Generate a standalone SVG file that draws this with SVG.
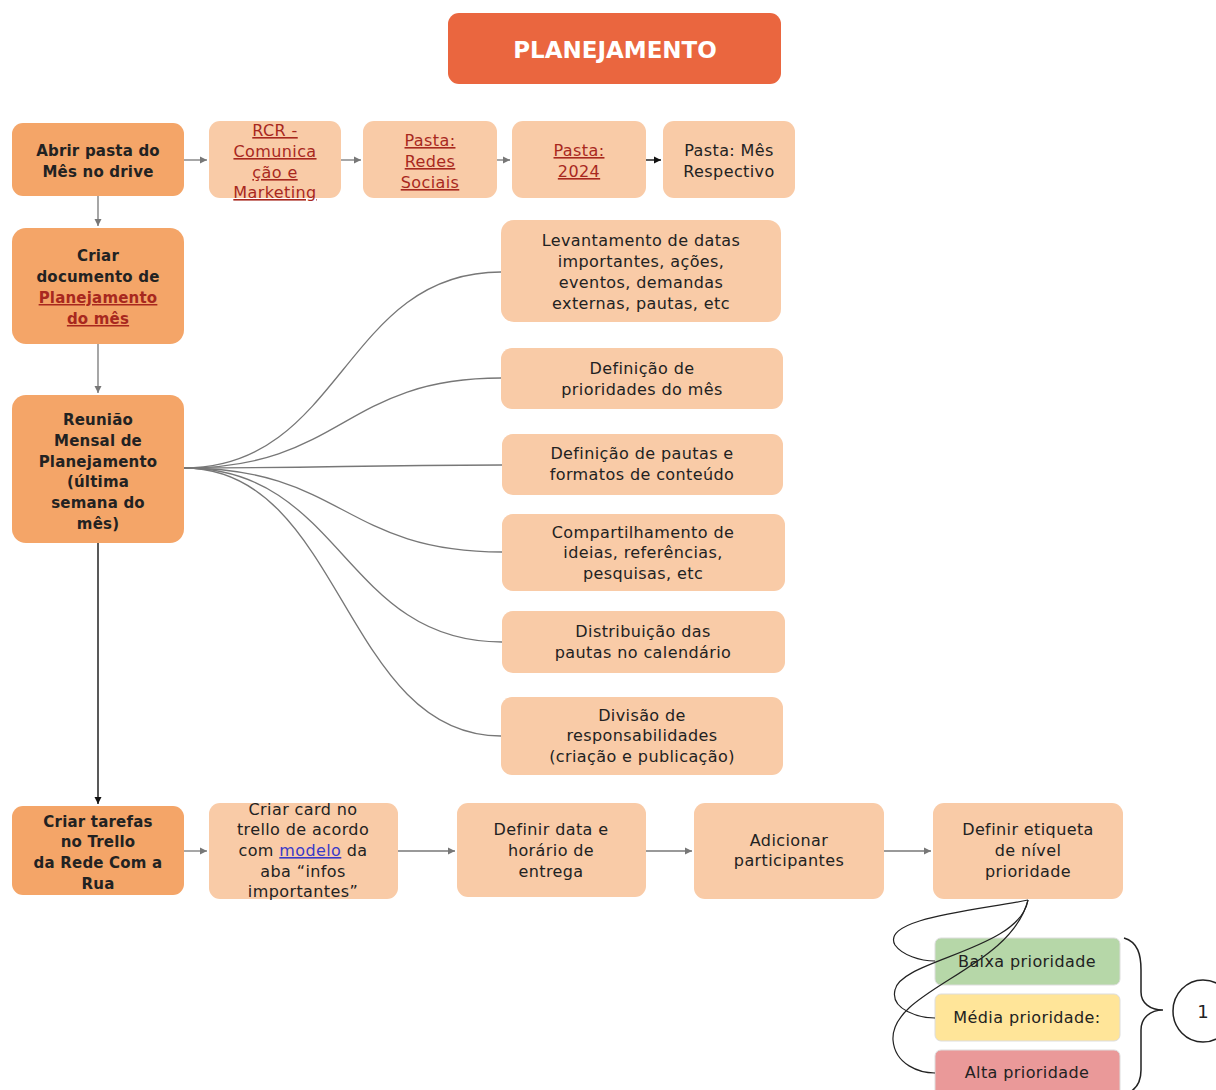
<svg xmlns="http://www.w3.org/2000/svg" width="1216" height="1090" viewBox="0 0 1216 1090">
<defs>
<style>
text{font-family:"DejaVu Sans","Liberation Sans",sans-serif;text-anchor:middle;fill:#222;}
.dark{fill:#F4A568;}
.light{fill:#F9CBA7;}
.b{font-weight:bold;font-size:15px;letter-spacing:0.2px;}
.n{font-size:16px;letter-spacing:0.4px;}
.lnk{fill:#A8281E;text-decoration:underline;}
.blue{fill:#3a3ac8;text-decoration:underline;}
.c{fill:none;stroke:#777;stroke-width:1.3;}
.k{fill:none;stroke:#222;stroke-width:1.5;}
.p{stroke:#ddd;stroke-width:1;}
</style>
<marker id="ag" markerWidth="8" markerHeight="8" refX="7" refY="4" orient="auto" markerUnits="userSpaceOnUse"><path d="M0,0.5 L7,4 L0,7.5 Z" fill="#777"/></marker>
<marker id="ak" markerWidth="8" markerHeight="8" refX="7" refY="4" orient="auto" markerUnits="userSpaceOnUse"><path d="M0,0.5 L7,4 L0,7.5 Z" fill="#111"/></marker>
</defs>
<rect width="1216" height="1090" fill="#fff"/>

<g id="title">
<rect x="448" y="13" width="333" height="71" rx="11" fill="#EA663F"/>
<text x="615" y="58" style="fill:#fff;font-weight:bold;font-size:23px;">PLANEJAMENTO</text>
</g>

<g id="abrir">
<rect class="dark" x="12" y="123" width="172" height="73" rx="11"/>
<text class="b"><tspan x="98" y="156">Abrir pasta do</tspan><tspan x="98" y="177">Mês no drive</tspan></text>
</g>
<g id="rcr">
<rect class="light" x="209" y="121" width="132" height="77" rx="11"/>
<text class="n lnk"><tspan x="275" y="136">RCR -</tspan><tspan x="275" y="157">Comunica</tspan><tspan x="275" y="178">ção e</tspan><tspan x="275" y="198">Marketing</tspan></text>
</g>
<g id="redes">
<rect class="light" x="363" y="121" width="134" height="77" rx="11"/>
<text class="n lnk"><tspan x="430" y="146">Pasta:</tspan><tspan x="430" y="167">Redes</tspan><tspan x="430" y="188">Sociais</tspan></text>
</g>
<g id="ano">
<rect class="light" x="512" y="121" width="134" height="77" rx="11"/>
<text class="n lnk"><tspan x="579" y="156">Pasta:</tspan><tspan x="579" y="177">2024</tspan></text>
</g>
<g id="mes">
<rect class="light" x="663" y="121" width="132" height="77" rx="11"/>
<text class="n"><tspan x="729" y="156">Pasta: Mês</tspan><tspan x="729" y="177">Respectivo</tspan></text>
</g>

<g id="criardoc">
<rect class="dark" x="12" y="228" width="172" height="116" rx="14"/>
<text class="b"><tspan x="98" y="261">Criar</tspan><tspan x="98" y="282">documento de</tspan><tspan x="98" y="303" class="lnk">Planejamento</tspan><tspan x="98" y="324" class="lnk">do mês</tspan></text>
</g>
<g id="reuniao">
<rect class="dark" x="12" y="395" width="172" height="148" rx="14"/>
<text class="b"><tspan x="98" y="425">Reunião</tspan><tspan x="98" y="446">Mensal de</tspan><tspan x="98" y="467">Planejamento</tspan><tspan x="98" y="487">(última</tspan><tspan x="98" y="508">semana do</tspan><tspan x="98" y="529">mês)</tspan></text>
</g>

<g id="levantamento">
<rect class="light" x="501" y="220" width="280" height="102" rx="13"/>
<text class="n"><tspan x="641" y="246">Levantamento de datas</tspan><tspan x="641" y="267">importantes, ações,</tspan><tspan x="641" y="288">eventos, demandas</tspan><tspan x="641" y="309">externas, pautas, etc</tspan></text>
</g>
<g id="prioridades">
<rect class="light" x="501" y="348" width="282" height="61" rx="11"/>
<text class="n"><tspan x="642" y="374">Definição de</tspan><tspan x="642" y="395">prioridades do mês</tspan></text>
</g>
<g id="pautas">
<rect class="light" x="502" y="434" width="281" height="61" rx="11"/>
<text class="n"><tspan x="642" y="459">Definição de pautas e</tspan><tspan x="642" y="480">formatos de conteúdo</tspan></text>
</g>
<g id="compartilhamento">
<rect class="light" x="502" y="514" width="283" height="77" rx="11"/>
<text class="n"><tspan x="643" y="538">Compartilhamento de</tspan><tspan x="643" y="558">ideias, referências,</tspan><tspan x="643" y="579">pesquisas, etc</tspan></text>
</g>
<g id="distribuicao">
<rect class="light" x="502" y="611" width="283" height="62" rx="11"/>
<text class="n"><tspan x="643" y="637">Distribuição das</tspan><tspan x="643" y="658">pautas no calendário</tspan></text>
</g>
<g id="divisao">
<rect class="light" x="501" y="697" width="282" height="78" rx="11"/>
<text class="n"><tspan x="642" y="721">Divisão de</tspan><tspan x="642" y="741">responsabilidades</tspan><tspan x="642" y="762">(criação e publicação)</tspan></text>
</g>

<g id="criartarefas">
<rect class="dark" x="12" y="806" width="172" height="89" rx="11"/>
<text class="b"><tspan x="98" y="827">Criar tarefas</tspan><tspan x="98" y="847">no Trello</tspan><tspan x="98" y="868">da Rede Com a</tspan><tspan x="98" y="889">Rua</tspan></text>
</g>
<g id="card">
<rect class="light" x="209" y="803" width="189" height="96" rx="11"/>
<text class="n"><tspan x="303" y="815">Criar card no</tspan><tspan x="303" y="835">trello de acordo</tspan><tspan x="303" y="856">com <tspan class="blue">modelo</tspan> da</tspan><tspan x="303" y="877">aba “infos</tspan><tspan x="303" y="897">importantes”</tspan></text>
</g>
<g id="data">
<rect class="light" x="457" y="803" width="189" height="94" rx="11"/>
<text class="n"><tspan x="551" y="835">Definir data e</tspan><tspan x="551" y="856">horário de</tspan><tspan x="551" y="877">entrega</tspan></text>
</g>
<g id="participantes">
<rect class="light" x="694" y="803" width="190" height="96" rx="11"/>
<text class="n"><tspan x="789" y="846">Adicionar</tspan><tspan x="789" y="866">participantes</tspan></text>
</g>
<g id="etiqueta">
<rect class="light" x="933" y="803" width="190" height="96" rx="11"/>
<text class="n"><tspan x="1028" y="835">Definir etiqueta</tspan><tspan x="1028" y="856">de nível</tspan><tspan x="1028" y="877">prioridade</tspan></text>
</g>

<g id="baixa">
<rect class="p" x="935" y="938" width="185" height="47" rx="6" fill="#B6D7A8"/>
<text class="n" x="1027" y="967">Baixa prioridade</text>
</g>
<g id="media">
<rect class="p" x="935" y="994" width="185" height="47" rx="6" fill="#FFE599"/>
<text class="n" x="1027" y="1023">Média prioridade:</text>
</g>
<g id="alta">
<rect class="p" x="935" y="1050" width="185" height="50" rx="6" fill="#EA9999"/>
<text class="n" x="1027" y="1078">Alta prioridade</text>
</g>

<g id="nota">
<path class="k" d="M1124,938 C1138,942 1141,955 1141,970 L1141,992 C1141,1003 1150,1010 1163,1010 C1150,1010 1141,1018 1141,1030 L1141,1070 C1141,1082 1137,1088 1130,1092"/>
<ellipse class="k" cx="1203" cy="1011" rx="30" ry="31" fill="#fff"/>
<text x="1203" y="1018" style="font-size:18px;">1</text>
</g>

<g id="connectors">
<path class="c" d="M184,160 H207" marker-end="url(#ag)"/>
<path class="c" d="M341,160 H361" marker-end="url(#ag)"/>
<path class="c" d="M497,160 H510" marker-end="url(#ag)"/>
<path class="k" d="M646,160 H661" marker-end="url(#ak)"/>
<path class="c" d="M98,196 V226" marker-end="url(#ag)"/>
<path class="c" d="M98,344 V393" marker-end="url(#ag)"/>
<path class="k" d="M98,543 V804" marker-end="url(#ak)"/>
<path class="c" d="M184,468 C343,468 343,272 501,272"/>
<path class="c" d="M184,468 C343,468 343,378 501,378"/>
<path class="c" d="M184,468 C343,468 343,465 502,465"/>
<path class="c" d="M184,468 C343,468 343,552 502,552"/>
<path class="c" d="M184,468 C343,468 343,642 502,642"/>
<path class="c" d="M184,468 C343,468 343,736 501,736"/>
<path class="c" d="M184,851 H207" marker-end="url(#ag)"/>
<path class="c" d="M398,851 H455" marker-end="url(#ag)"/>
<path class="c" d="M646,851 H692" marker-end="url(#ag)"/>
<path class="c" d="M884,851 H931" marker-end="url(#ag)"/>
<path class="k" style="stroke-width:1.2" d="M1028,900 C980,910 880,918 895,945 C902,955 920,961 935,961"/>
<path class="k" style="stroke-width:1.2" d="M1028,900 C1020,950 900,960 895,990 C890,1010 920,1018 935,1018"/>
<path class="k" style="stroke-width:1.2" d="M1028,900 C1010,970 890,990 893,1040 C895,1065 920,1073 935,1073"/>
</g>
</svg>
